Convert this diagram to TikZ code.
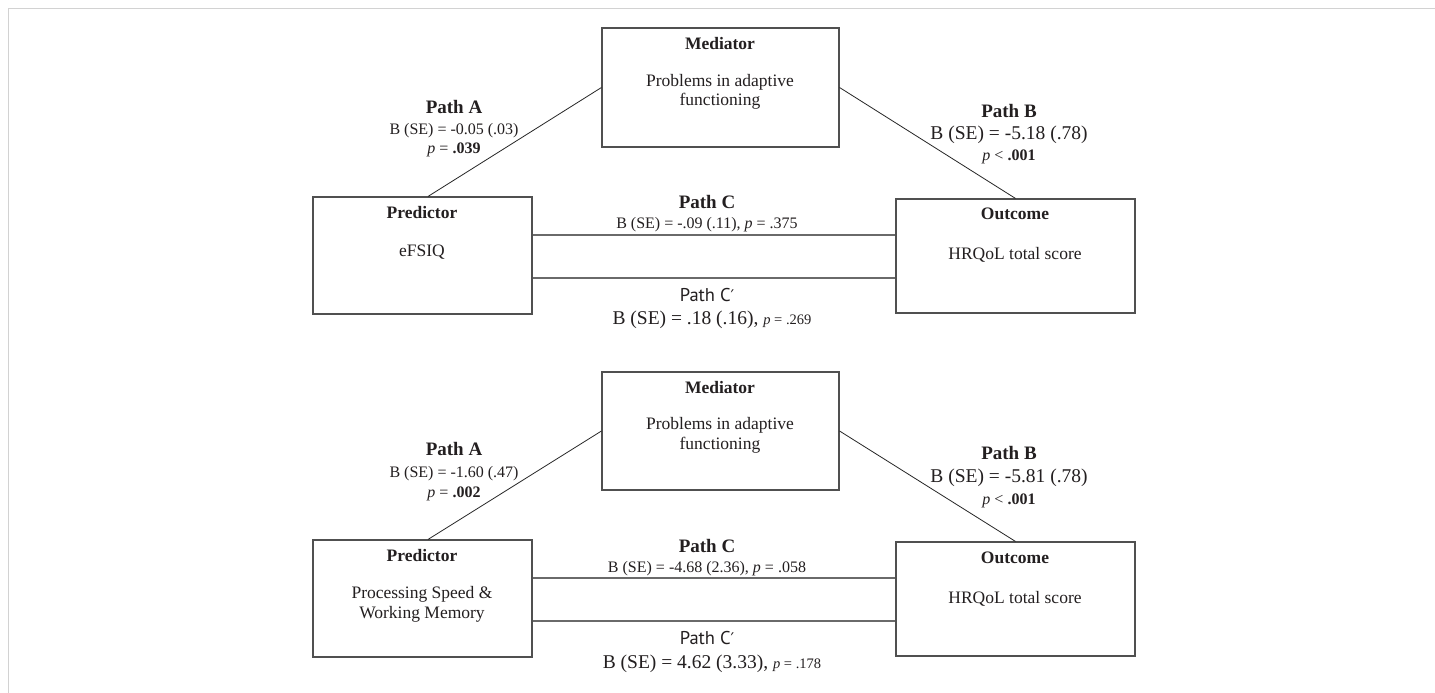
\documentclass[tikz,border=0pt]{standalone}
\usepackage{fontspec}
\setmainfont{Liberation Serif}
\newfontfamily\cpfont{PT Sans}
\newfontfamily\primefont{DejaVu Sans}
\definecolor{txt}{HTML}{231F20}
\definecolor{boxc}{HTML}{505050}
\definecolor{linec}{HTML}{6A6A6A}
\definecolor{framec}{HTML}{D2D2D2}
\tikzset{
  box/.style={draw=boxc, line width=1.1pt, inner sep=0pt},
  predbox/.style={box, minimum width=219pt, minimum height=117pt},
  medbox/.style={box, minimum width=237pt, minimum height=119pt},
  outbox/.style={box, minimum width=239pt, minimum height=114pt},
  tx/.style={inner sep=0pt, text=txt, text height=12pt, text depth=0pt},
  head/.style={tx, font=\fontsize{17.5}{20}\selectfont\bfseries},
  body/.style={tx, font=\fontsize{17.5}{20}\selectfont},
  ptitle/.style={tx, font=\fontsize{19}{22}\selectfont\bfseries},
  pstat/.style={tx, font=\fontsize{16}{18}\selectfont},
  pbig/.style={tx, font=\fontsize{19.5}{22}\selectfont},
  psans/.style={tx, font=\fontsize{18.5}{22}\cpfont\selectfont},
  diag/.style={draw=black!85, line width=0.8pt},
  hline/.style={draw=linec, line width=1.1pt}
}
\newcommand{\cprime}{{\primefont\fontsize{16}{18}\selectfont\char"2032}}
\begin{document}
\begin{tikzpicture}[x=1pt,y=-1pt]
\useasboundingbox (0,0) rectangle (1435,693);
\fill[white] (0,0) rectangle (1435,693);
\draw[framec, line width=1pt] (8,693) -- (8,9) -- (1435,9);

% ---------- Diagram 1 ----------
\node[medbox] (med1) at (720.5,87.5) {};
\node[predbox] (pred1) at (422.5,255.5) {};
\node[outbox] (out1) at (1015.5,256) {};

\node[head] (m1h) at (720,43) {Mediator};
\node[body] (m1a) at (720,80) {Problems in adaptive};
\node[body] (m1b) at (720,100) {functioning};
\node[head] (p1h) at (422,212) {Predictor};
\node[body] (p1a) at (422,250) {eFSIQ};
\node[head] (o1h) at (1015,213) {Outcome};
\node[body] (o1a) at (1015,253) {HRQoL total score};

\draw[diag] ([xshift=5.5pt]pred1.north) -- (med1.west);
\draw[diag] (med1.east) -- (out1.north);
\draw[hline] ([yshift=20.5pt]pred1.east) -- ([yshift=20.5pt]pred1.east -| out1.west);
\draw[hline] ([yshift=-22.5pt]pred1.east) -- ([yshift=-22.5pt]pred1.east -| out1.west);

\node[ptitle] (a1t) at (454,107) {Path A};
\node[pstat] (a1b) at (454,128) {B (SE) = -0.05 (.03)};
\node[pstat] (a1p) at (454,147) {\textit{p} = \textbf{.039}};
\node[ptitle] (b1t) at (1009,111) {Path B};
\node[pbig] (b1b) at (1009,133) {B (SE) = -5.18 (.78)};
\node[pstat] (b1p) at (1009,154) {\textit{p} < \textbf{.001}};
\node[ptitle] (c1t) at (707,202) {Path C};
\node[pstat] (c1b) at (707,222.5) {B (SE) = -.09 (.11), \textit{p} = .375};
\node[psans] (d1t) at (707,295) {Path C\cprime};
\node[pbig] (d1b) at (712,318) {B (SE) = .18 (.16), {\fontsize{14.5}{16}\selectfont\textit{p} = .269}};

% ---------- Diagram 2 ----------
\node[medbox, minimum height=118pt] (med2) at (720.5,431) {};
\node[predbox] (pred2) at (422.5,598.5) {};
\node[outbox] (out2) at (1015.5,599) {};

\node[head] (m2h) at (720,387) {Mediator};
\node[body] (m2a) at (720,423) {Problems in adaptive};
\node[body] (m2b) at (720,443) {functioning};
\node[head] (p2h) at (422,555) {Predictor};
\node[body] (p2a) at (422,592) {Processing Speed \&};
\node[body] (p2b) at (422,612) {Working Memory};
\node[head] (o2h) at (1015,557) {Outcome};
\node[body] (o2a) at (1015,597) {HRQoL total score};

\draw[diag] ([xshift=5.5pt]pred2.north) -- (med2.west);
\draw[diag] (med2.east) -- (out2.north);
\draw[hline] ([yshift=20.5pt]pred2.east) -- ([yshift=20.5pt]pred2.east -| out2.west);
\draw[hline] ([yshift=-22.5pt]pred2.east) -- ([yshift=-22.5pt]pred2.east -| out2.west);

\node[ptitle] (a2t) at (454,449) {Path A};
\node[pstat] (a2b) at (454,471) {B (SE) = -1.60 (.47)};
\node[pstat] (a2p) at (454,491) {\textit{p} = \textbf{.002}};
\node[ptitle] (b2t) at (1009,453) {Path B};
\node[pbig] (b2b) at (1009,476) {B (SE) = -5.81 (.78)};
\node[pstat] (b2p) at (1009,498) {\textit{p} < \textbf{.001}};
\node[ptitle] (c2t) at (707,546) {Path C};
\node[pstat] (c2b) at (707,566) {B (SE) = -4.68 (2.36), \textit{p} = .058};
\node[psans] (d2t) at (707,638) {Path C\cprime};
\node[pbig] (d2b) at (712,662) {B (SE) = 4.62 (3.33), {\fontsize{14.5}{16}\selectfont\textit{p} = .178}};
\end{tikzpicture}
\end{document}
